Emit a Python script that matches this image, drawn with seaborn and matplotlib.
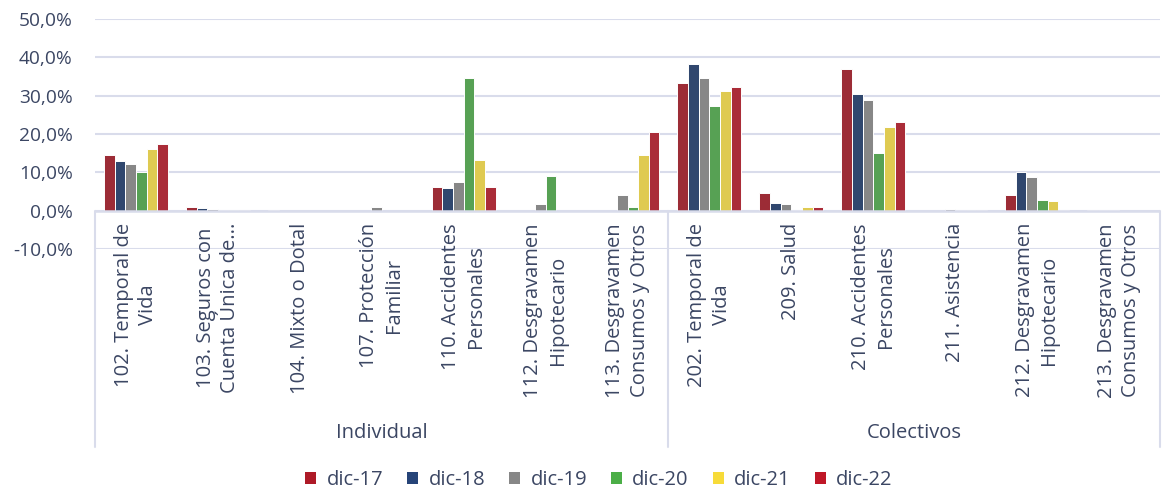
import matplotlib
matplotlib.use("Agg")
import matplotlib.pyplot as plt
import seaborn as sns
import pandas as pd
from matplotlib.ticker import FuncFormatter, FixedLocator
from matplotlib.patches import Patch
from matplotlib.lines import Line2D

# Ramos (inner axis level) and their groups (outer axis level)
categories = [
    "102. Temporal de\nVida",
    "103. Seguros con\nCuenta Única de...",
    "104. Mixto o Dotal",
    "107. Protección\nFamiliar",
    "110. Accidentes\nPersonales",
    "112. Desgravamen\nHipotecario",
    "113. Desgravamen\nConsumos y Otros",
    "202. Temporal de\nVida",
    "209. Salud",
    "210. Accidentes\nPersonales",
    "211. Asistencia",
    "212. Desgravamen\nHipotecario",
    "213. Desgravamen\nConsumos y Otros",
]
groups = ["Individual", "Colectivos"]
group_sizes = [7, 6]

series = ["dic-17", "dic-18", "dic-19", "dic-20", "dic-21", "dic-22"]

# Percentages by year-end
dic_17 = [14.6, 0.9, 0.05, 0.0, 6.3, 0.0, 0.0, 33.3, 4.6, 36.9, 0.0, 4.0, 0.2]
dic_18 = [13.0, 0.7, 0.0, 0.0, 5.9, 0.0, 0.0, 38.2, 2.0, 30.4, 0.0, 10.2, 0.2]
dic_19 = [12.1, 0.4, 0.0, 0.9, 7.5, 1.8, 4.1, 34.5, 1.7, 28.9, 0.4, 8.8, 0.2]
dic_20 = [10.0, 0.2, 0.0, 0.0, 34.5, 9.1, 0.9, 27.2, 0.1, 15.1, 0.2, 2.9, 0.0]
dic_21 = [16.1, 0.1, 0.0, 0.0, 13.2, 0.0, 14.6, 31.1, 1.0, 21.9, 0.1, 2.6, 0.0]
dic_22 = [17.3, 0.3, 0.0, 0.0, 6.25, 0.0, 20.4, 32.3, 1.0, 23.2, 0.1, 0.1, 0.0]

yticks = [-10, 0, 10, 20, 30, 40, 50]

colors = ["#AE1A27", "#264478", "#878787", "#4BAE47", "#F7DB39", "#BF1727"]
text_color = "#3B4663"
grid_color = "#D9DCEB"

values = [dic_17, dic_18, dic_19, dic_20, dic_21, dic_22]
rows = []
for s, vals in zip(series, values):
    for i, v in enumerate(vals):
        rows.append({"idx": i, "serie": s, "valor": v})
df = pd.DataFrame(rows)

sns.set_theme(style="white")
plt.rcParams["font.family"] = ["Open Sans", "DejaVu Sans"]

FS = 14.5

fig = plt.figure(figsize=(11.66, 4.96), dpi=100)
W, H = 1166, 496
x0, x1 = 95, 1160
y_top, y_bot = 19, 249
ax = fig.add_axes([x0 / W, 1 - y_bot / H, (x1 - x0) / W, (y_bot - y_top) / H])

sns.barplot(data=df, x="idx", y="valor", hue="serie", palette=colors,
            width=0.78, edgecolor="white", linewidth=0.7, ax=ax,
            legend=False, zorder=3)

ax.set_xlim(-0.5, len(categories) - 0.5)
ax.set_ylim(yticks[0], yticks[-1])
ax.yaxis.set_major_locator(FixedLocator(yticks))
ax.yaxis.set_major_formatter(FuncFormatter(lambda v, p: f"{v:.1f}%".replace(".", ",")))
ax.tick_params(axis="y", labelsize=13.8, colors=text_color, length=0, pad=16)
ax.set_xticks([])
ax.set_xlabel("")
ax.set_ylabel("")
for sp in ax.spines.values():
    sp.set_visible(False)

for t in yticks:
    ax.axhline(t, color=grid_color, lw=1.5, zorder=1)
ax.axhline(0, color=grid_color, lw=1.8, zorder=4)

# Category labels (rotated) just below the zero axis
trans = ax.get_xaxis_transform()
ylab = 1 - (223 - y_top) / (y_bot - y_top)
for i, c in enumerate(categories):
    ax.text(i, ylab, c, rotation=90, ha="center", va="top",
            multialignment="center", fontsize=FS, color=text_color,
            transform=trans, clip_on=False, zorder=5, linespacing=1.3)

# Group labels and separators
frac_bottom = 1 - (447 - y_top) / (y_bot - y_top)
frac_zero = 1 - (211 - y_top) / (y_bot - y_top)
frac_group = 1 - (433 - y_top) / (y_bot - y_top)
start = -0.5
edges = [start]
for g, n in zip(groups, group_sizes):
    end = start + n
    ax.text((start + end) / 2, frac_group, g, ha="center", va="center",
            fontsize=FS, color=text_color, transform=trans, clip_on=False)
    edges.append(end)
    start = end
for e in edges:
    ax.add_line(Line2D([e, e], [frac_bottom, frac_zero], transform=trans,
                       color=grid_color, lw=1.5, clip_on=False, zorder=4))

handles = [Patch(facecolor=col, edgecolor="none", label=s) for s, col in zip(series, colors)]
leg = fig.legend(handles=handles, loc="center", bbox_to_anchor=(599 / W, 1 - 480 / H),
                 ncol=6, frameon=False, fontsize=FS, handlelength=0.55,
                 handleheight=0.55, handletextpad=0.5, columnspacing=1.2)
for t in leg.get_texts():
    t.set_color(text_color)

fig.savefig("out.png", dpi=100)
